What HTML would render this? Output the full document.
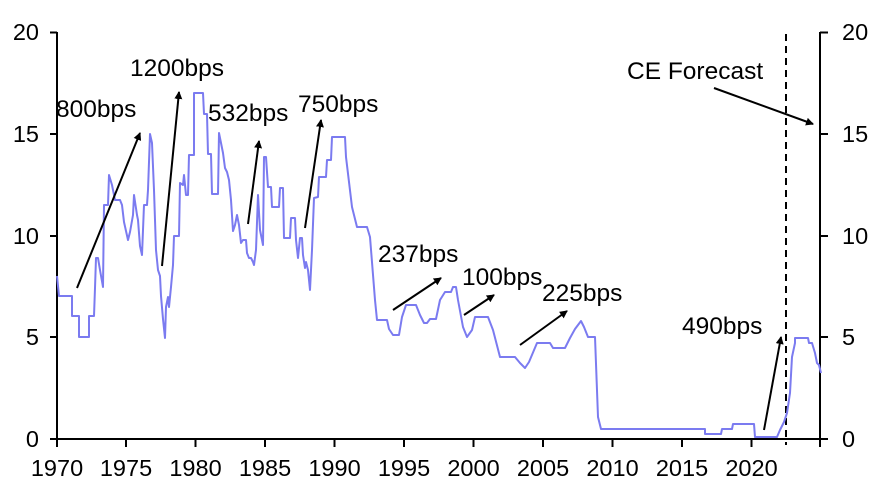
<!DOCTYPE html>
<html><head><style>
html,body{margin:0;padding:0;background:#fff;}
svg{display:block;font-family:"Liberation Sans",Arial,sans-serif;}
</style></head><body>
<svg width="878" height="490" viewBox="0 0 878 490" xmlns="http://www.w3.org/2000/svg">
<defs><marker id="ah" markerWidth="8" markerHeight="8" refX="7" refY="4" orient="auto" markerUnits="userSpaceOnUse"><path d="M0,0 L8,4 L0,8 z" fill="#000"/></marker></defs>
<g stroke="#000" stroke-width="2" fill="none">
<line x1="57" y1="32" x2="57" y2="439"/>
<line x1="820" y1="32" x2="820" y2="439"/>
<line x1="57" y1="439" x2="820" y2="439"/>
<line x1="50" y1="32.5" x2="57" y2="32.5"/><line x1="50" y1="134" x2="57" y2="134"/><line x1="50" y1="236" x2="57" y2="236"/><line x1="50" y1="337" x2="57" y2="337"/><line x1="50" y1="439" x2="57" y2="439"/>
<line x1="820" y1="32.5" x2="828" y2="32.5"/><line x1="820" y1="134" x2="828" y2="134"/><line x1="820" y1="236" x2="828" y2="236"/><line x1="820" y1="337" x2="828" y2="337"/><line x1="820" y1="439" x2="828" y2="439"/>
<line x1="57" y1="439" x2="57" y2="447"/><line x1="126" y1="439" x2="126" y2="447"/><line x1="195.5" y1="439" x2="195.5" y2="447"/><line x1="265" y1="439" x2="265" y2="447"/><line x1="334.5" y1="439" x2="334.5" y2="447"/><line x1="404" y1="439" x2="404" y2="447"/><line x1="473.5" y1="439" x2="473.5" y2="447"/><line x1="543" y1="439" x2="543" y2="447"/><line x1="612.5" y1="439" x2="612.5" y2="447"/><line x1="682" y1="439" x2="682" y2="447"/><line x1="751.5" y1="439" x2="751.5" y2="447"/><line x1="820" y1="439" x2="820" y2="447"/>
</g>
<line x1="786" y1="34" x2="786" y2="445" stroke="#000" stroke-width="2" stroke-dasharray="7,5"/>
<g font-size="23.5" fill="#000">
<text x="39" y="40" text-anchor="end">20</text><text x="39" y="142" text-anchor="end">15</text><text x="39" y="244" text-anchor="end">10</text><text x="39" y="345" text-anchor="end">5</text><text x="39" y="447" text-anchor="end">0</text>
<text x="842" y="40">20</text><text x="842" y="142">15</text><text x="842" y="244">10</text><text x="842" y="345">5</text><text x="842" y="447">0</text>
<g text-anchor="middle"><text x="57" y="476">1970</text><text x="126" y="476">1975</text><text x="195.5" y="476">1980</text><text x="265" y="476">1985</text><text x="334.5" y="476">1990</text><text x="404" y="476">1995</text><text x="473.5" y="476">2000</text><text x="543" y="476">2005</text><text x="612.5" y="476">2010</text><text x="682" y="476">2015</text><text x="751.5" y="476">2020</text></g>
</g>
<polyline fill="none" stroke="#7b7bf0" stroke-width="2" stroke-linejoin="round" points="57,276 59,296 72,296 72,316 79,316 79,337 89,337 89,316 94,316 95,288 96,258 98,258 100,270 103,287 104,205 108,205 109,175 112,185 115,200 120,200 122,205 124,222 128,240 130,232 133,215 134,195 137,215 138,220 140,246 142,255 144,205 147,205 148,190 150,134 152,143 154,190 156,250 158,270 160,276 161,296 163,319 165,338 166,307 168,297 169,307 171,287 173,265 174,236 179,236 180,183 183,185 184,175 186,195 188,195 189,155 194,155 194,93 203,93 204,114 207,114 208,154 211,154 212,194 218,194 219,133 221,143 223,153 225,168 227,172 229,180 231,200 233,231 235,225 237,215 239,225 241,243 243,240 246,240 247,253 249,258 251,258 253,262 254,265 256,250 258,195 260,230 263,245 264,157 266,157 268,187 271,187 272,207 279,207 280,188 283,188 284,238 290,238 291,218 295,218 296,240 298,258 300,238 302,238 303,255 305,268 306,262 308,270 310,290 312,250 314,198 318,197 319,177 326,177 327,160 331,160 332,137 345,137 346,157 352,207 357,227 367,227 370,237 375,300 377,320 387,320 389,329 393,335 399,335 402,317 406,305 416,305 420,315 424,323 427,323 430,319 436,319 440,300 445,292 451,292 453,287 456,287 458,300 463,327 467,337 472,330 475,317 488,317 493,330 500,357 515,357 520,363 525,368 529,362 537,343 550,343 553,348 565,348 570,338 575,329 581,321 584,327 588,337 595,337 598,417 601,429 705,429 705,434 721,434 722,429 732,429 733,424 754,424 755,437 777,437 780,430 784,422 787,413 790,393 792,357 795,343 795,338 808,338 809,343 812,343 815,353 817,363 819,365 821,373"/>
<g stroke="#000" stroke-width="2" marker-end="url(#ah)">
<line x1="77" y1="288" x2="140" y2="133"/>
<line x1="162" y1="266" x2="179" y2="92"/>
<line x1="248" y1="224" x2="259" y2="141"/>
<line x1="305" y1="228" x2="321" y2="120"/>
<line x1="393" y1="310" x2="441" y2="278"/>
<line x1="464" y1="315" x2="494" y2="295"/>
<line x1="520" y1="345" x2="567" y2="311"/>
<line x1="764" y1="430" x2="781" y2="337"/>
<line x1="714" y1="88" x2="813" y2="124"/>
</g>
<g font-size="24.5" fill="#000">
<text x="56" y="117">800bps</text>
<text x="130" y="76">1200bps</text>
<text x="208" y="121">532bps</text>
<text x="298" y="112">750bps</text>
<text x="378" y="262">237bps</text>
<text x="462" y="285">100bps</text>
<text x="542" y="301">225bps</text>
<text x="682" y="334">490bps</text>
<text x="627" y="79">CE Forecast</text>
</g>
</svg>
</body></html>
